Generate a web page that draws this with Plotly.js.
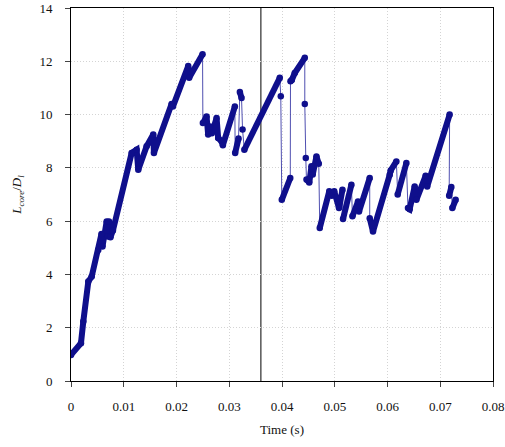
<!DOCTYPE html>
<html>
<head>
<meta charset="utf-8">
<script src="https://cdn.plot.ly/plotly-3.0.1.min.js"></script>
<style>html,body{margin:0;padding:0;background:#fff;}#chart{width:505px;height:447px;}</style>
</head>
<body>
<div id="chart"></div>
<script>
// Time (s) and L_core/D_l ; null marks a jump between ramps
const timeS = [
  0, 0.00189, 0.00233, 0.00328, 0.00392, 0.00517, 0.00578, 0.00597, 0.00676, 0.00701, 0.0072, 0.00748, 0.00795,
  0.0115, 0.01244, 0.01275, 0.01434, 0.01559, 0.01572, 0.01907, 0.01932, 0.02222, 0.0224, 0.02494, null,
  0.025, 0.0257, 0.026, 0.02633, 0.0267, 0.0276, 0.0279, 0.02854, 0.02879, 0.03106, null,
  0.03112, 0.03176, null,
  0.03201, 0.03233, null,
  0.03252, null,
  0.03286, 0.03958, null,
  0.03977, null,
  0.03996, 0.04157, null,
  0.04161, 0.04186, 0.04242, 0.04432, null,
  0.04432, null,
  0.04451, null,
  0.04464, 0.04517, 0.04559, 0.04583, 0.04653, 0.04697, null,
  0.04716, 0.04896, 0.04943, 0.0499, 0.05081, 0.05146, null,
  0.05157, 0.05316, null,
  0.05335, 0.05441, 0.0546, 0.05663, null,
  0.05663, 0.05725, 0.06042, 0.06061, 0.06168, null,
  0.06193, 0.06358, null,
  0.06388, 0.0642, 0.06515, 0.06547, 0.06723, 0.06752, 0.07178, null,
  0.07169, 0.0721, null,
  0.07229, 0.07292
];
const lCore = [
  0.98, 1.42, 2.23, 3.73, 3.92, 4.92, 5.52, 5.05, 5.99, 5.42, 5.99, 5.4, 5.65,
  8.56, 8.68, 7.93, 8.81, 9.25, 8.56, 10.4, 10.3, 11.82, 11.38, 12.26, null,
  9.68, 9.93, 9.25, 9.55, 9.3, 9.87, 9.12, 9.0, 8.85, 10.3, null,
  8.56, 9.1, null,
  10.85, 10.62, null,
  9.44, null,
  8.68, 11.38, null,
  10.69, null,
  6.8, 7.62, null,
  11.25, 11.3, 11.56, 12.13, null,
  10.4, null,
  8.37, null,
  7.56, 7.45, 8.06, 7.75, 8.43, 8.15, null,
  5.74, 7.12, 6.95, 7.12, 6.49, 7.18, null,
  6.08, 7.37, null,
  6.18, 6.74, 6.36, 7.62, null,
  6.11, 5.61, 7.74, 7.9, 8.24, null,
  7.0, 8.18, null,
  6.49, 6.45, 7.3, 6.8, 7.7, 7.3, 10.0, null,
  6.95, 7.28, null,
  6.49, 6.8
];
const markerTime = 0.036;
const xTicks = [0, 0.01, 0.02, 0.03, 0.04, 0.05, 0.06, 0.07, 0.08];
const xTickText = ['0', '0.01', '0.02', '0.03', '0.04', '0.05', '0.06', '0.07', '0.08'];
const yTicks = [0, 2, 4, 6, 8, 10, 12, 14];

const navy = '#0f0f8c';
const traces = [
  {x: timeS, y: lCore, type: 'scatter', mode: 'lines', connectgaps: true,
   line: {color: 'rgba(20,20,150,0.75)', width: 1}, hoverinfo: 'skip', showlegend: false},
  {x: timeS, y: lCore, type: 'scatter', mode: 'lines+markers', connectgaps: false,
   line: {color: navy, width: 6}, marker: {color: navy, size: 6.5}, showlegend: false}
];
const font = {family: 'Liberation Serif, DejaVu Serif, serif', size: 13, color: '#111'};
const layout = {
  width: 505, height: 447,
  margin: {l: 71, r: 12, t: 8, b: 66},
  paper_bgcolor: '#fff', plot_bgcolor: '#fff',
  font: font,
  showlegend: false,
  xaxis: {
    range: [0, 0.08], tickvals: xTicks, ticktext: xTickText,
    showline: true, linecolor: '#000', linewidth: 1, mirror: true,
    ticks: 'outside', ticklen: 5, tickcolor: '#444', ticklabelstandoff: 8,
    showgrid: true, gridcolor: '#d4d4d4', griddash: '1px,2px', gridwidth: 1,
    zeroline: false, tickfont: font,
    title: {text: 'Time (s)', font: font, standoff: 12}
  },
  yaxis: {
    range: [0, 14], tickvals: yTicks,
    showline: true, linecolor: '#000', linewidth: 1, mirror: true,
    ticks: 'outside', ticklen: 5, tickcolor: '#444', ticklabelstandoff: 10,
    showgrid: true, gridcolor: '#d4d4d4', griddash: '1px,2px', gridwidth: 1,
    zeroline: false, tickfont: font,
    title: {text: '<i>L</i><sub><i>core</i></sub>/<i>D</i><sub><i>l</i></sub>', font: font, standoff: 14}
  },
  shapes: [{type: 'line', xref: 'x', yref: 'paper', x0: markerTime, x1: markerTime, y0: 0, y1: 1,
            line: {color: '#000', width: 1}, layer: 'below'}]
};
Plotly.newPlot('chart', traces, layout, {displayModeBar: false, staticPlot: true});
</script>
</body>
</html>
